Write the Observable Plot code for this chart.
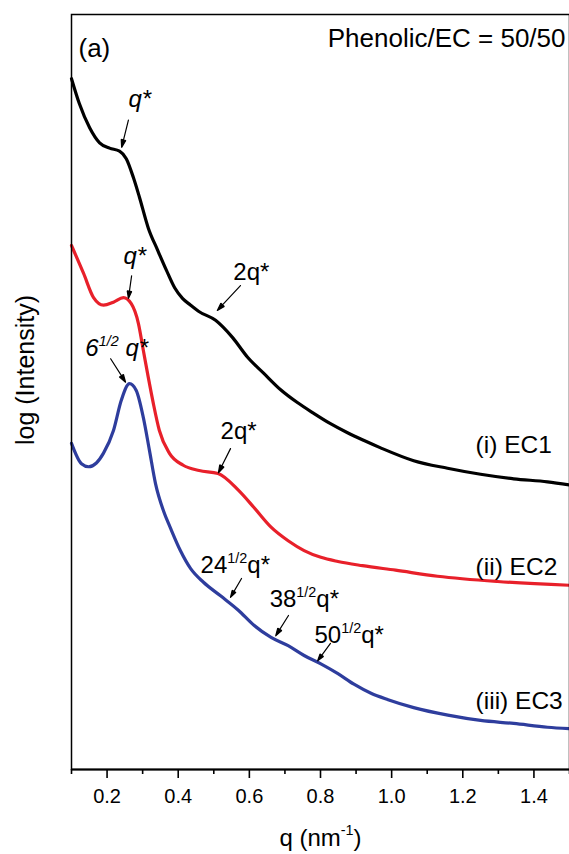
<!DOCTYPE html>
<html>
<head>
<meta charset="utf-8">
<script src="https://cdn.jsdelivr.net/npm/d3@7"></script>
<script src="https://cdn.jsdelivr.net/npm/@observablehq/plot@0.6"></script>
<style>
  body { margin: 0; background: #fff; }
  #chart svg { display: block; }
</style>
</head>
<body>
<div id="chart"></div>
<script>
// ---- Data (q in nm^-1, log intensity in arbitrary offset units) ----
const seriesNames = ["EC1", "EC2", "EC3"];
const seriesColors = ["#000000", "#e8202a", "#2e3d9d"];
const seriesLabels = ["(i) EC1", "(ii) EC2", "(iii) EC3"];
const seriesLabelQ = [1.236, 1.236, 1.236];
const seriesLabelI = [4.29, 2.68, 0.91];

const ec1Q = [0.100,0.122,0.151,0.179,0.207,0.235,0.254,0.274,0.291,0.316,0.342,0.367,0.390,0.412,0.435,0.457,0.505,0.553,0.595,0.640,0.688,0.735,0.780,0.828,0.876,0.921,0.969,1.062,1.157,1.250,1.343,1.438,1.500];
const ec1I = [9.15,8.82,8.50,8.30,8.23,8.19,8.09,7.84,7.58,7.17,6.88,6.61,6.38,6.24,6.15,6.07,5.95,5.72,5.46,5.25,5.03,4.86,4.72,4.58,4.46,4.36,4.26,4.09,3.99,3.91,3.85,3.81,3.77];

const ec2Q = [0.100,0.134,0.162,0.190,0.218,0.246,0.268,0.288,0.302,0.316,0.330,0.347,0.375,0.414,0.459,0.512,0.569,0.613,0.661,0.709,0.754,0.801,0.849,0.918,1.011,1.129,1.298,1.500];
const ec2I = [6.94,6.57,6.25,6.15,6.19,6.25,6.17,5.91,5.55,5.19,4.85,4.49,4.19,4.03,3.96,3.92,3.70,3.47,3.21,3.03,2.90,2.81,2.755,2.70,2.64,2.56,2.49,2.44];

const ec3Q = [0.100,0.128,0.148,0.170,0.190,0.218,0.240,0.263,0.282,0.302,0.319,0.336,0.359,0.378,0.406,0.435,0.471,0.519,0.569,0.613,0.661,0.709,0.754,0.801,0.849,0.894,0.942,0.990,1.062,1.158,1.250,1.343,1.438,1.500];
const ec3I = [4.32,4.05,4.01,4.06,4.19,4.49,4.89,5.11,5.02,4.66,4.23,3.79,3.42,3.20,2.90,2.66,2.48,2.30,2.11,1.91,1.75,1.64,1.51,1.40,1.27,1.13,1.01,0.925,0.82,0.72,0.65,0.61,0.56,0.54];

// Peak annotations: label text ({...} = superscript), start position (baseline), italic flag
const annText   = ["q*", "2q*", "q*", "2q*", "6{1/2} q*", "24{1/2}q*", "38{1/2}q*", "50{1/2}q*"];
const annItalic = [true, false, true, false, true, false, false, false];
const annQ      = [0.260, 0.555, 0.246, 0.519, 0.139, 0.463, 0.657, 0.783];
const annI      = [8.77, 6.49, 6.70, 4.38, 5.48, 2.60, 2.15, 1.68];
// Arrows: from (q1,i1) to (q2,i2)
const arrQ1 = [0.260, 0.575, 0.269, 0.547, 0.210, 0.578, 0.710, 0.828];
const arrI1 = [8.60, 6.41, 6.54, 4.25, 5.44, 2.53, 2.04, 1.67];
const arrQ2 = [0.241, 0.510, 0.260, 0.513, 0.252, 0.547, 0.674, 0.792];
const arrI2 = [8.24, 6.08, 6.24, 3.93, 5.13, 2.28, 1.77, 1.44];

const majorTicks = [0.2, 0.4, 0.6, 0.8, 1.0, 1.2, 1.4];
const minorTicks = [0.1, 0.3, 0.5, 0.7, 0.9, 1.1, 1.3, 1.5];

// ---- Tables built from the arrays ----
const curves = [
  ...ec1Q.map((q, i) => ({s: "EC1", q, I: ec1I[i]})),
  ...ec2Q.map((q, i) => ({s: "EC2", q, I: ec2I[i]})),
  ...ec3Q.map((q, i) => ({s: "EC3", q, I: ec3I[i]}))
];
const anns = annText.map((t, i) => ({t, italic: annItalic[i], q: annQ[i], I: annI[i]}));
const arrows = arrQ1.map((q1, i) => ({q1, i1: arrI1[i], q2: arrQ2[i], i2: arrI2[i]}));
const labels = seriesLabels.map((t, i) => ({t, q: seriesLabelQ[i], I: seriesLabelI[i]}));

const chart = Plot.plot({
  width: 569,
  height: 854,
  marginTop: 14,
  marginBottom: 85,
  marginLeft: 71,
  marginRight: 0,
  style: {fontFamily: "'Liberation Sans', Arial, Helvetica, sans-serif", fontSize: "20px", background: "#fff", color: "#000"},
  x: {domain: [0.1, 1.5], label: null},
  y: {domain: [0, 10], axis: null, label: null},
  color: {domain: seriesNames, range: seriesColors},
  marks: [
    Plot.line(curves, {x: "q", y: "I", z: "s", stroke: "s", strokeWidth: 3.2, curve: "monotone-x"}),
    Plot.frame({stroke: "#000", strokeWidth: 1.5}),
    Plot.ruleY([0], {stroke: "#000", strokeWidth: 2}),
    Plot.axisX(majorTicks, {tickSize: 9, tickPadding: 10, tickFormat: d3.format(".1f"), strokeWidth: 1.6, fontSize: 20, label: null}),
    Plot.axisX(minorTicks, {tickSize: 5, tickFormat: () => "", strokeWidth: 1.6, label: null}),
    Plot.arrow(arrows, {x1: "q1", y1: "i1", x2: "q2", y2: "i2", stroke: "#000", strokeWidth: 1.2, headLength: 10, headAngle: 34}),
    Plot.text(anns.filter(d => d.italic), {x: "q", y: "I", text: "t", textAnchor: "start", lineAnchor: "bottom", fontSize: 24, fontStyle: "italic"}),
    Plot.text(anns.filter(d => !d.italic), {x: "q", y: "I", text: "t", textAnchor: "start", lineAnchor: "bottom", fontSize: 24}),
    Plot.text(labels, {x: "q", y: "I", text: "t", textAnchor: "start", lineAnchor: "middle", fontSize: 24.5}),
    Plot.text(["Phenolic/EC = 50/50"], {text: d => d, frameAnchor: "top-right", textAnchor: "end", lineAnchor: "middle", dx: -4, dy: 24, fontSize: 26}),
    Plot.text(["(a)"], {text: d => d, frameAnchor: "top-left", textAnchor: "start", lineAnchor: "middle", dx: 7, dy: 34, fontSize: 26}),
    Plot.text(["log (Intensity)"], {text: d => d, frameAnchor: "left", rotate: -90, textAnchor: "middle", lineAnchor: "middle", dx: -46, dy: -22, fontSize: 25}),
    Plot.text(["q (nm{-1})"], {text: d => d, frameAnchor: "bottom", textAnchor: "middle", lineAnchor: "bottom", dy: 76, fontSize: 24})
  ]
});

document.getElementById("chart").appendChild(chart);

// Filled arrow heads
chart.querySelectorAll('g[aria-label="arrow"] path').forEach(p => {
  p.setAttribute("d", p.getAttribute("d") + "Z");
  p.setAttribute("fill", "#000");
  p.setAttribute("stroke-linejoin", "miter");
});

// Convert {..} segments into superscript tspans
const NS = "http://www.w3.org/2000/svg";
chart.querySelectorAll("text").forEach(t => {
  const s = t.textContent;
  if (!s.includes("{")) return;
  const fs = parseFloat(getComputedStyle(t).fontSize) || 24;
  const parts = s.split(/(\{[^}]*\})/).filter(p => p.length);
  while (t.firstChild) t.removeChild(t.firstChild);
  let raised = false;
  const shift = fs * 0.42;
  for (const p of parts) {
    const ts = document.createElementNS(NS, "tspan");
    if (p.startsWith("{")) {
      ts.textContent = p.slice(1, -1);
      ts.setAttribute("font-size", (fs * 0.6).toFixed(1));
      ts.setAttribute("dy", (-shift).toFixed(1));
      raised = true;
    } else {
      ts.textContent = p;
      if (raised) { ts.setAttribute("dy", shift.toFixed(1)); raised = false; }
    }
    t.appendChild(ts);
  }
});
</script>
</body>
</html>
